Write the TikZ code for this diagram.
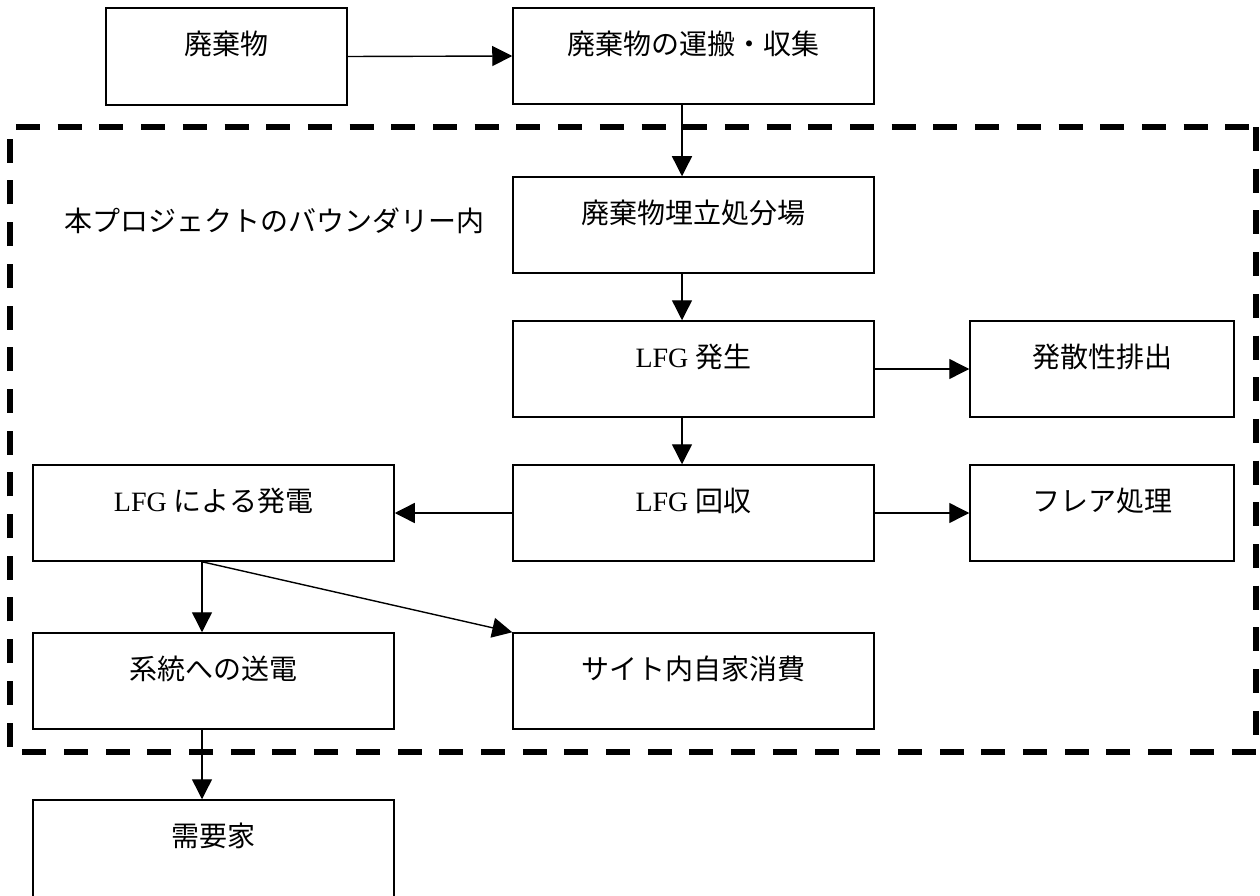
\documentclass[tikz,border=0pt]{standalone}
\usepackage{fontspec}
\setmainfont{Liberation Serif}
\newfontfamily\cjk{Noto Sans CJK JP}
\usetikzlibrary{arrows.meta}
\begin{document}
\begin{tikzpicture}[x=1pt,y=-1pt,
  box/.style={draw=black, line width=1.5pt, rectangle, inner sep=0pt},
  txt/.style={font=\fontsize{28}{32}\selectfont, inner sep=0pt, anchor=center},
  arr/.style={draw=black, line width=1.4pt, -{Triangle[length=20pt,width=20pt]}},
  bound/.style={draw=black, line width=5.5pt, dash pattern=on 24pt off 17.7pt, line cap=butt, line join=miter}
]
\useasboundingbox (0,0) rectangle (1260,896);
\clip (0,0) rectangle (1260,896);
\fill[white] (0,0) rectangle (1260,896);

% boundary
\draw[bound] (1256,127) -- (1256,752) -- (10,752) -- (10,127) -- cycle;
\node[txt, anchor=west] (blabel) at (64,221) {\cjk 本プロジェクトのバウンダリー内};

% boxes (corner coordinates)
\node[box, minimum width=241pt, minimum height=97pt] (waste) at (226.5,56.5) {};
\node[box, minimum width=361pt, minimum height=96pt] (trans) at (693.5,56) {};
\node[box, minimum width=361pt, minimum height=96pt] (land) at (693.5,225) {};
\node[box, minimum width=361pt, minimum height=96pt] (gen) at (693.5,369) {};
\node[box, minimum width=264pt, minimum height=96pt] (fug) at (1102,369) {};
\node[box, minimum width=361pt, minimum height=96pt] (rec) at (693.5,513) {};
\node[box, minimum width=264pt, minimum height=96pt] (flare) at (1102,513) {};
\node[box, minimum width=361pt, minimum height=96pt] (pow) at (213.5,513) {};
\node[box, minimum width=361pt, minimum height=96pt] (grid) at (213.5,681) {};
\node[box, minimum width=361pt, minimum height=96pt] (self) at (693.5,681) {};
\node[box, minimum width=361pt, minimum height=120pt] (cons) at (213.5,860) {};

% texts
\node[txt] (t1) at ([yshift=-37pt]waste.north) {\cjk 廃棄物};
\node[txt] (t2) at ([yshift=-37pt]trans.north) {\cjk 廃棄物の運搬・収集};
\node[txt] (t3) at ([yshift=-37pt]land.north) {\cjk 廃棄物埋立処分場};
\node[txt] (t4) at ([yshift=-37pt]gen.north) {LFG {\cjk 発生}};
\node[txt] (t5) at ([yshift=-37pt]fug.north) {\cjk 発散性排出};
\node[txt] (t6) at ([yshift=-37pt]rec.north) {LFG {\cjk 回収}};
\node[txt] (t7) at ([yshift=-37pt]flare.north) {\cjk フレア処理};
\node[txt] (t8) at ([yshift=-37pt]pow.north) {LFG {\cjk による発電}};
\node[txt] (t9) at ([yshift=-37pt]grid.north) {\cjk 系統への送電};
\node[txt] (t10) at ([yshift=-37pt]self.north) {\cjk サイト内自家消費};
\node[txt] (t11) at ([yshift=-37pt]cons.north) {\cjk 需要家};

% connectors
\draw[arr] (waste.east) -- (trans.west);
\draw[arr] ([xshift=-11.5pt]trans.south) -- ([xshift=-11.5pt]land.north);
\draw[arr] ([xshift=-11.5pt]land.south) -- ([xshift=-11.5pt]gen.north);
\draw[arr] (gen.east) -- (fug.west);
\draw[arr] ([xshift=-11.5pt]gen.south) -- ([xshift=-11.5pt]rec.north);
\draw[arr] (rec.east) -- (flare.west);
\draw[arr] (rec.west) -- (pow.east);
\draw[arr] ([xshift=-11.5pt]pow.south) -- ([xshift=-11.5pt]grid.north);
\draw[arr] ([xshift=-11.5pt]pow.south) -- (self.north west);
\draw[arr] ([xshift=-11.5pt]grid.south) -- ([xshift=-11.5pt]cons.north);
\end{tikzpicture}
\end{document}
